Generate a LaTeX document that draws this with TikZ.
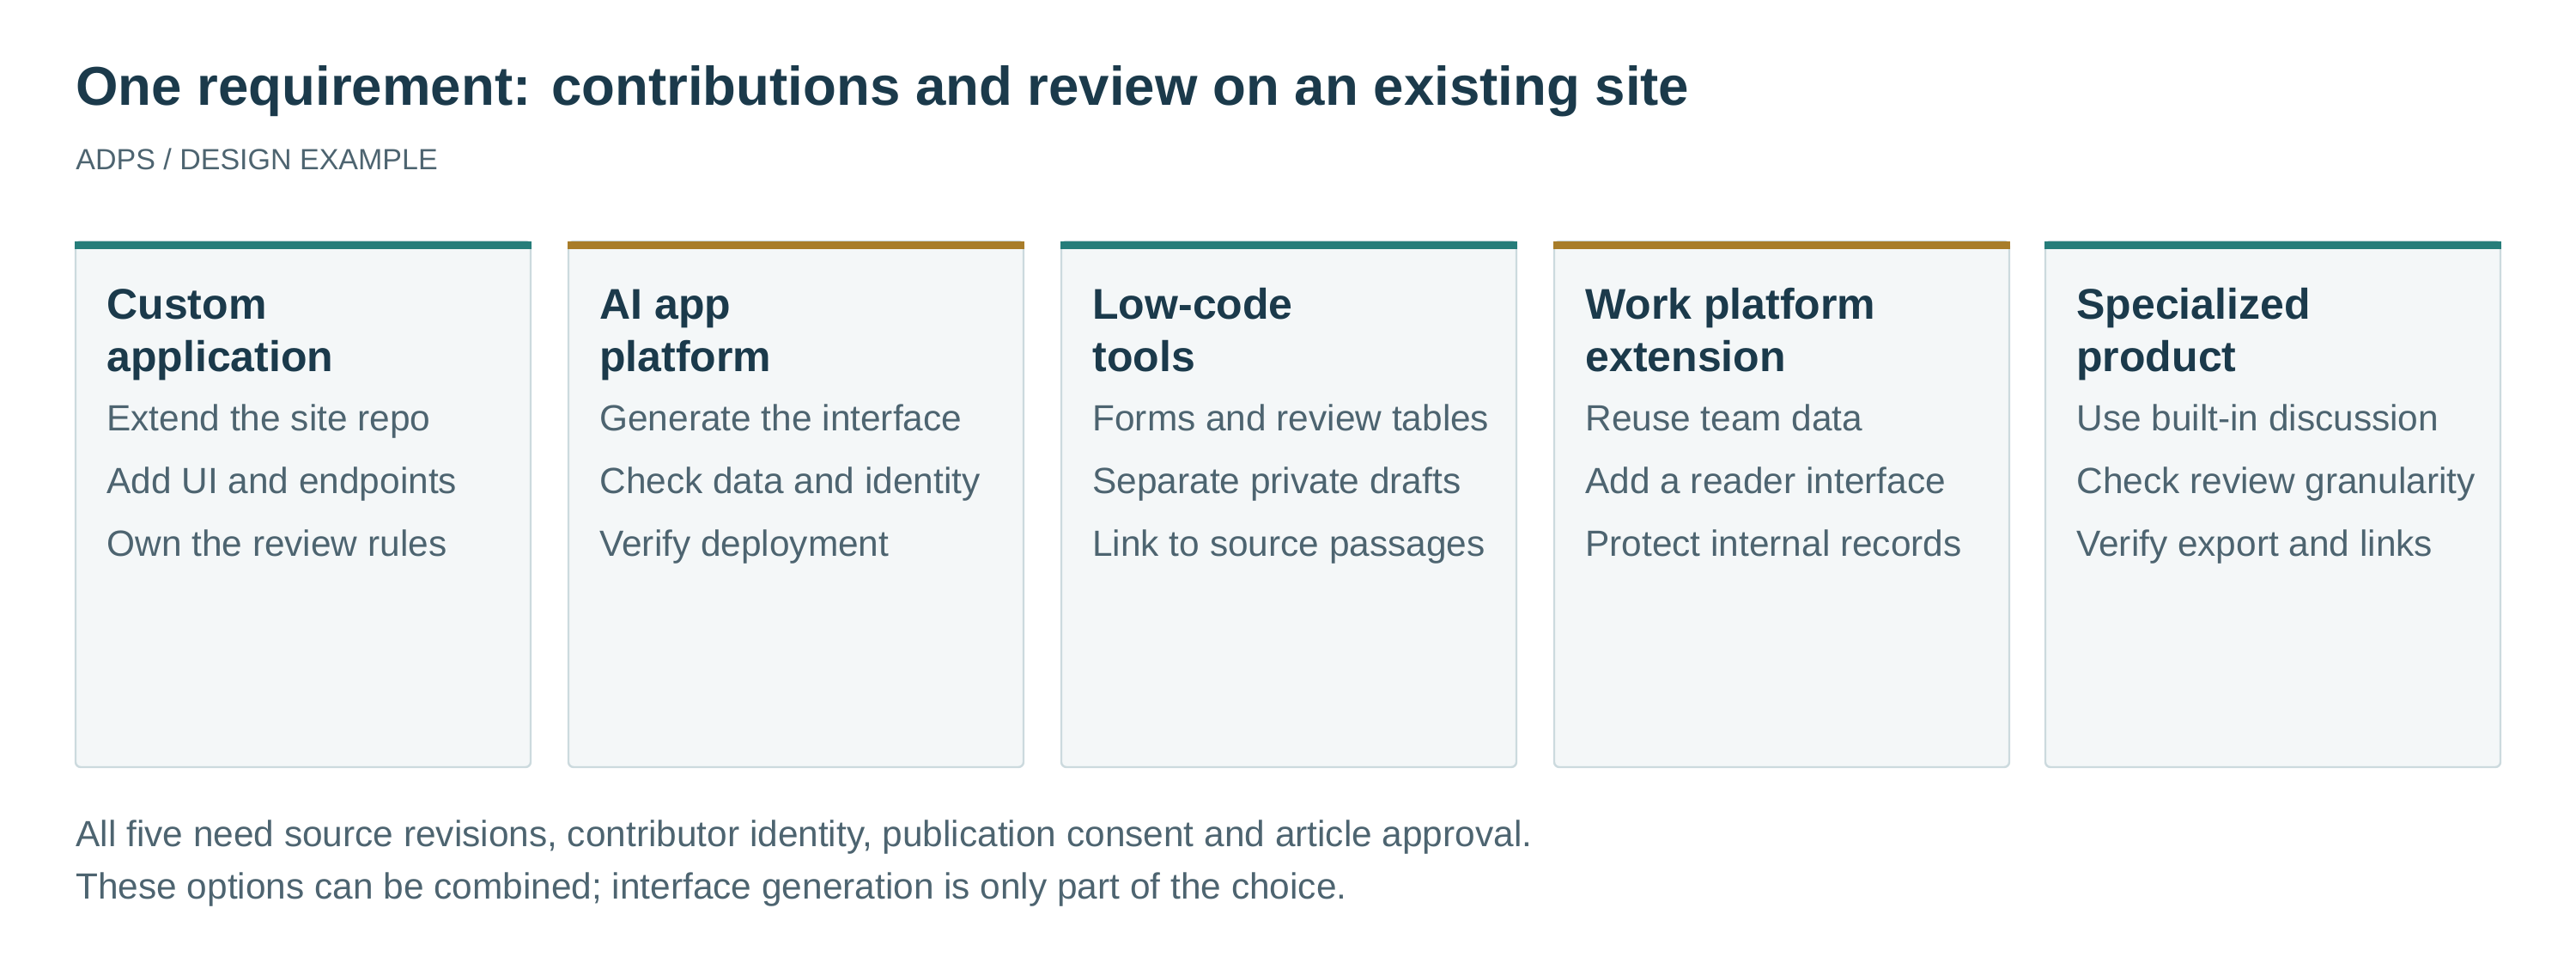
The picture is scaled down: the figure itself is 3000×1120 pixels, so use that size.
\documentclass[tikz,border=0pt]{standalone}
\usepackage{fontspec}
\setmainfont{Liberation Sans}
\definecolor{navy}{HTML}{1B3A4B}
\definecolor{teal}{HTML}{267D7A}
\definecolor{gold}{HTML}{A87D2A}
\definecolor{cardbg}{HTML}{F4F7F8}
\definecolor{cardln}{HTML}{CCDADE}
\definecolor{txt}{HTML}{4D6470}
\begin{document}
\begin{tikzpicture}[x=0.5pt,y=-0.5pt,
  lbl/.style={anchor=base west,inner sep=0pt},
  head/.style={lbl,font=\fontsize{25}{30.5}\selectfont\bfseries,text=navy},
  item/.style={lbl,font=\fontsize{21.2}{26}\selectfont,text=txt},
  card/.style={fill=cardbg,draw=cardln,line width=1.2pt,rounded corners=3pt}]
\useasboundingbox (0,0) rectangle (3000,1120);
\node[lbl,font=\fontsize{31.8}{38}\selectfont\bfseries,text=navy] (title) at (88,122) {One requirement: contributions and review on an existing site};
\node[lbl,font=\fontsize{17}{20}\selectfont,text=txt] (sub) at (88,197) {ADPS / DESIGN EXAMPLE};
\foreach \x/\c/\ha/\hb/\ia/\ib/\ic/\n in {
 88/teal/Custom/application/Extend the site repo/Add UI and endpoints/Own the review rules/a,
 662/gold/AI app/platform/Generate the interface/Check data and identity/Verify deployment/b,
 1236/teal/Low-code/tools/Forms and review tables/Separate private drafts/Link to source passages/c,
 1810/gold/Work platform/extension/Reuse team data/Add a reader interface/Protect internal records/d,
 2382/teal/Specialized/product/Use built-in discussion/Check review granularity/Verify export and links/e}{
  \draw[card] (\x,281) rectangle (\x+530,893);
  \fill[\c] (\x-0.6,281) rectangle (\x+530.6,290);
  \node[head] (ha\n) at (\x+36,371) {\ha};
  \node[head] (hb\n) at (\x+36,432) {\hb};
  \node[item] (i1\n) at (\x+36,501) {\ia};
  \node[item] (i2\n) at (\x+36,574) {\ib};
  \node[item] (i3\n) at (\x+36,647) {\ic};
}
\node[lbl,font=\fontsize{21.2}{26}\selectfont,text=txt] (f1) at (88,985) {All five need source revisions, contributor identity, publication consent and article approval.};
\node[lbl,font=\fontsize{21.2}{26}\selectfont,text=txt] (f2) at (88,1046) {These options can be combined; interface generation is only part of the choice.};
\end{tikzpicture}
\end{document}
